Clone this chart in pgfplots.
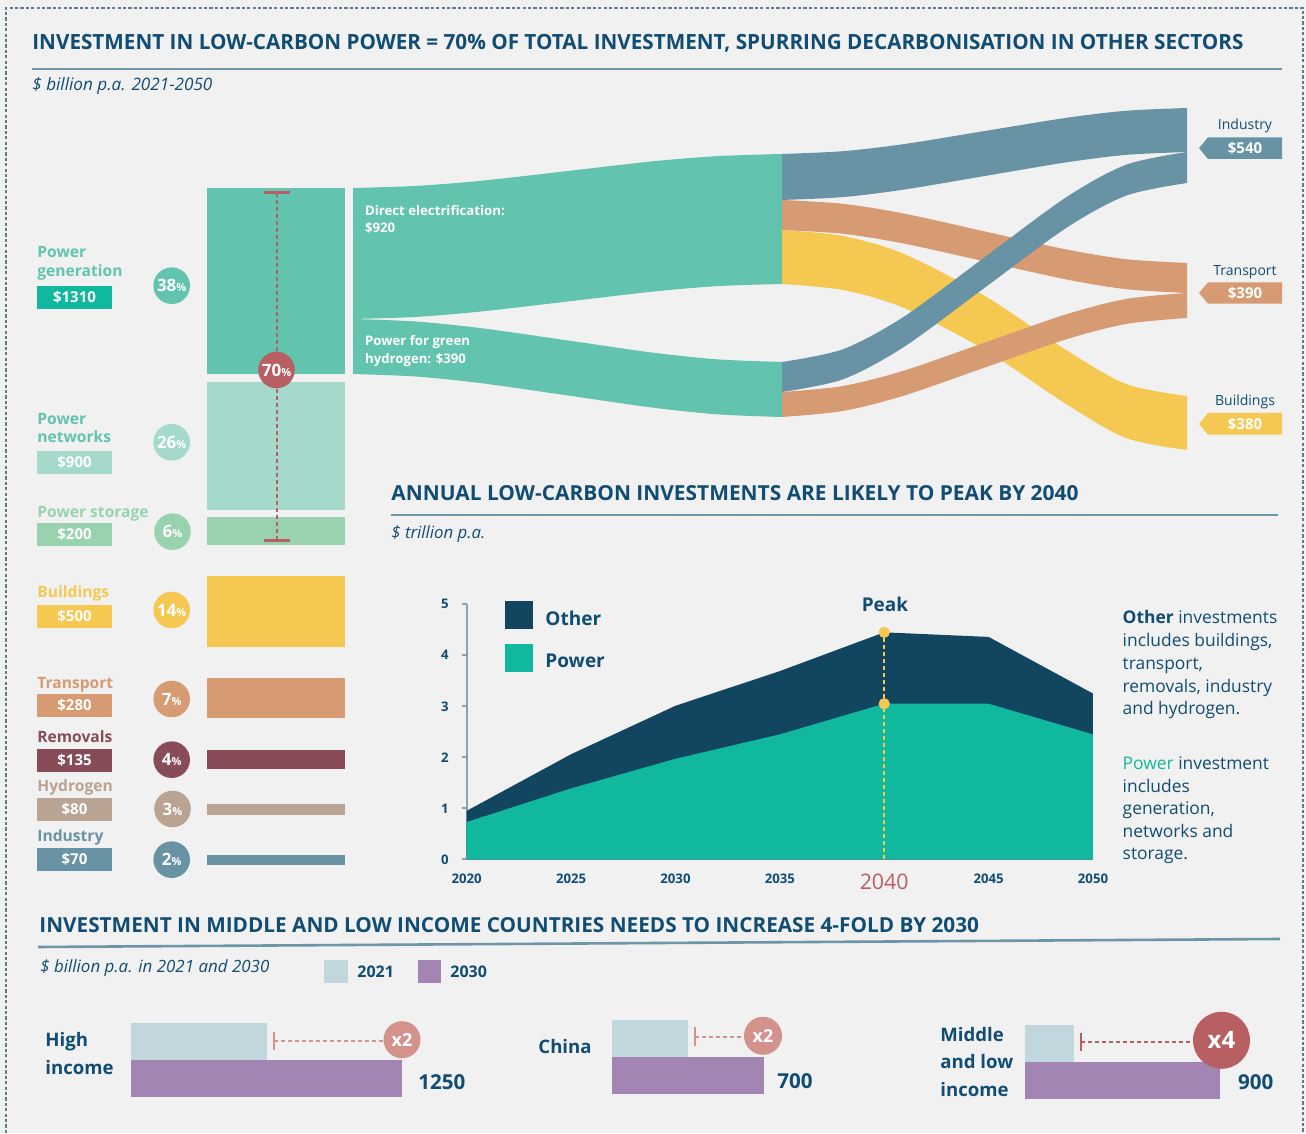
\documentclass[border=0pt]{standalone}
\usepackage{fontspec}
\setmainfont{Open Sans}
\usepackage{graphicx}
\usepackage{pgfplots}
\pgfplotsset{compat=1.18}
\usepgfplotslibrary{fillbetween}

\definecolor{bg}{HTML}{F1F1F1}
\definecolor{cNavy}{HTML}{114D73}
\definecolor{cRule}{HTML}{6C95A8}
\definecolor{cPG}{HTML}{62C4AF}
\definecolor{cPGbox}{HTML}{10B99D}
\definecolor{cPN}{HTML}{A4D9CB}
\definecolor{cPS}{HTML}{98D2AF}
\definecolor{cBld}{HTML}{F5C852}
\definecolor{cTrn}{HTML}{D69B72}
\definecolor{cRem}{HTML}{884C58}
\definecolor{cHyd}{HTML}{B9A392}
\definecolor{cInd}{HTML}{6893A5}
\definecolor{cRed}{HTML}{B85F63}
\definecolor{cOther}{HTML}{12455F}
\definecolor{cPower}{HTML}{10B99D}
\definecolor{cTwoOne}{HTML}{C1D6DD}
\definecolor{cThreeO}{HTML}{A285B3}
\definecolor{cPink}{HTML}{D4928D}
\definecolor{cBorder}{HTML}{5C7C91}
\definecolor{cAxis}{HTML}{86A3B3}

\newcommand{\fs}[1]{\fontsize{#1}{#1}\selectfont}
\tikzset{lbl/.style={anchor=base west, inner sep=0pt},
         cbl/.style={anchor=base, inner sep=0pt}}

\begin{document}
\begin{tikzpicture}
\fill[bg] (0pt,0pt) rectangle (653pt,566.5pt);

% ---------------- left column: $ billion p.a. ----------------
\begin{axis}[at={(103.5pt,472.5pt)}, anchor=north west, scale only axis,
  width=69pt, height=338.39pt, xmin=-0.5, xmax=0.5, ymin=0, ymax=4766,
  y dir=reverse, enlargelimits=false, hide axis, clip=false,
  ybar stacked, bar width=69pt]
\addplot[fill=cPG, draw=none] coordinates {(0,1310)};
\addplot[fill=none, draw=none] coordinates {(0,56)};
\addplot[fill=cPN, draw=none] coordinates {(0,900)};
\addplot[fill=none, draw=none] coordinates {(0,51)};
\addplot[fill=cPS, draw=none] coordinates {(0,200)};
\addplot[fill=none, draw=none] coordinates {(0,215)};
\addplot[fill=cBld, draw=none] coordinates {(0,500)};
\addplot[fill=none, draw=none] coordinates {(0,218)};
\addplot[fill=cTrn, draw=none] coordinates {(0,280)};
\addplot[fill=none, draw=none] coordinates {(0,227)};
\addplot[fill=cRem, draw=none] coordinates {(0,135)};
\addplot[fill=none, draw=none] coordinates {(0,245)};
\addplot[fill=cHyd, draw=none] coordinates {(0,80)};
\addplot[fill=none, draw=none] coordinates {(0,279)};
\addplot[fill=cInd, draw=none] coordinates {(0,70)};
\end{axis}

% ---------------- area chart: $ trillion p.a. ----------------
\begin{axis}[at={(233.35pt,136.85pt)}, anchor=south west, scale only axis,
  x=10.438pt, y=25.5pt, xmin=2020, xmax=2050, ymin=0, ymax=5,
  enlargelimits=false, clip=false,
  axis x line*=bottom, axis y line*=left,
  axis line style={-, draw=cAxis, line width=0.8pt},
  xtick={2020,2025,2030,2035,2040,2045,2050},
  xticklabels={2020,2025,2030,2035,{\mdseries\fs{10.7}\textcolor{cRed}{2040}},2045,2050},
  xtick style={draw=none},
  ytick={0,1,2,3,4,5},
  ytick style={draw=cAxis, line width=0.8pt},
  tick align=outside, major tick length=2.5pt,
  /pgf/number format/assume math mode=true,
  ticklabel style={font=\bfseries\fs{6.6}, text=cNavy},
  xticklabel style={yshift=-1.5pt},
  yticklabel style={xshift=-3pt},
  legend style={at={(0.0612,1.013)}, anchor=north west, draw=none, fill=none,
     inner sep=0pt, row sep=7.5pt, column sep=6pt,
     font=\bfseries\fs{9.5}, text=cNavy, nodes={inner sep=0pt, anchor=west}},
  legend cell align=left,
  legend image code/.code={\fill[#1] (0pt,-5pt) rectangle (14pt,9pt);}]
\addplot[fill=cOther, draw=none] coordinates {(2020,0.95) (2025,2.06) (2030,3.01) (2035,3.69) (2040,4.45) (2045,4.36) (2050,3.25)} \closedcycle;
\addplot[fill=cPower, draw=none] coordinates {(2020,0.73) (2025,1.39) (2030,1.97) (2035,2.45) (2040,3.05) (2045,3.05) (2050,2.45)} \closedcycle;
\legend{Other,Power}
\addplot[cBld, line width=1.1pt, dash pattern=on 2pt off 1.5pt] coordinates {(2040,0) (2040,4.45)};
\addplot[only marks, mark=*, mark size=2.6pt, color=cBld] coordinates {(2040,4.45) (2040,3.05)};
\end{axis}

% ---------------- bottom bars: $ billion p.a. ----------------
\begin{axis}[at={(65.5pt,18pt)}, anchor=south west, scale only axis,
  x=0.1084pt, y=18.5pt, xmin=0, xmax=1300, ymin=-0.5, ymax=1.5,
  enlargelimits=false, hide axis, clip=false, xbar, bar width=18.5pt]
\addplot[fill=cThreeO, draw=none, bar shift=0pt] coordinates {(1250,0)};
\addplot[fill=cTwoOne, draw=none, bar shift=0pt] coordinates {(625,1)};
\end{axis}
\begin{axis}[at={(306pt,19.5pt)}, anchor=south west, scale only axis,
  x=0.1084pt, y=18.5pt, xmin=0, xmax=1300, ymin=-0.5, ymax=1.5,
  enlargelimits=false, hide axis, clip=false, xbar, bar width=18.5pt]
\addplot[fill=cThreeO, draw=none, bar shift=0pt] coordinates {(700,0)};
\addplot[fill=cTwoOne, draw=none, bar shift=0pt] coordinates {(350,1)};
\end{axis}
\begin{axis}[at={(512.5pt,17pt)}, anchor=south west, scale only axis,
  x=0.1084pt, y=18.5pt, xmin=0, xmax=1300, ymin=-0.5, ymax=1.5,
  enlargelimits=false, hide axis, clip=false, xbar, bar width=18.5pt]
\addplot[fill=cThreeO, draw=none, bar shift=0pt] coordinates {(900,0)};
\addplot[fill=cTwoOne, draw=none, bar shift=0pt] coordinates {(225,1)};
\end{axis}

% ---------------- overlay in pixel coordinates ----------------
\begin{axis}[at={(0pt,0pt)}, anchor=south west, scale only axis,
  x=0.5pt, y=0.5pt, xmin=0, xmax=1306, ymin=0, ymax=1133, y dir=reverse,
  enlargelimits=false, hide axis, clip=false,
  fill between/on layer=main]

% border
\draw[cBorder, line width=1pt, dash pattern=on 1.6pt off 1.1pt] (6,1133) -- (6,8) -- (1303,8) -- (1303,1133);

% titles
\node[lbl, text=cNavy] at (32,49.3) {\resizebox{605.5pt}{7.6pt}{\bfseries INVESTMENT IN LOW-CARBON POWER = 70\% OF TOTAL INVESTMENT, SPURRING DECARBONISATION IN OTHER SECTORS}};
\draw[cRule, line width=1.1pt] (32,69) -- (1282,69);
\node[lbl, text=cNavy] at (32,90.7) {\resizebox{90pt}{!}{\itshape \$ billion p.a. 2021-2050}};

\node[lbl, text=cNavy] at (391,500.7) {\resizebox{343.5pt}{7.5pt}{\bfseries ANNUAL LOW-CARBON INVESTMENTS ARE LIKELY TO PEAK BY 2040}};
\draw[cRule, line width=1.1pt] (391,515) -- (1278,515);
\node[lbl, text=cNavy] at (391,538.3) {\resizebox{47pt}{!}{\itshape \$ trillion p.a.}};

\node[lbl, text=cNavy] at (39,932.3) {\resizebox{469.8pt}{7.5pt}{\bfseries INVESTMENT IN MIDDLE AND LOW INCOME COUNTRIES NEEDS TO INCREASE 4-FOLD BY 2030}};
\draw[cRule, line width=1.3pt] (38,947) -- (1280,939);
\node[lbl, text=cNavy] at (40,972.7) {\resizebox{114.5pt}{!}{\itshape \$ billion p.a. in 2021 and 2030}};

% sankey: left part
\addplot[draw=none, smooth, name path=deT] coordinates {(353,188) (417,185.9) (482,180.7) (568,171) (653,161.3) (718,156.1) (782,154)};
\addplot[draw=none, smooth, name path=deB] coordinates {(353,319) (417,316.9) (482,311.4) (568,301.5) (653,291.6) (718,286.1) (782,284)};
\addplot[fill=cPG, draw=none] fill between[of=deT and deB];
\addplot[draw=none, smooth, name path=ghT] coordinates {(353,319) (417,321.6) (482,328.3) (568,340.5) (653,352.7) (718,359.4) (782,362)};
\addplot[draw=none, smooth, name path=ghB] coordinates {(353,374) (417,376.6) (482,383.3) (568,395.5) (653,407.7) (718,414.4) (782,417)};
\addplot[fill=cPG, draw=none] fill between[of=ghT and ghB];
% sankey: right part
\addplot[draw=none, smooth, name path=dbT] coordinates {(782,230) (843,236) (904,254) (985,296) (1066,350) (1126,384) (1187,396)};
\addplot[draw=none, smooth, name path=dbB] coordinates {(782,284) (843,290) (904,308) (985,350) (1066,404) (1126,438) (1187,450)};
\addplot[fill=cBld, draw=none] fill between[of=dbT and dbB];
\addplot[draw=none, smooth, name path=dtT] coordinates {(782,200) (843,203.8) (904,213.6) (985,231.5) (1066,249.4) (1126,259.2) (1187,263)};
\addplot[draw=none, smooth, name path=dtB] coordinates {(782,230) (843,233.8) (904,243.6) (985,261.5) (1066,279.4) (1126,289.2) (1187,293)};
\addplot[fill=cTrn, draw=none] fill between[of=dtT and dtB];
\addplot[draw=none, smooth, name path=diT] coordinates {(782,154) (843,151.2) (904,144.1) (985,131) (1066,117.9) (1126,110.8) (1187,108)};
\addplot[draw=none, smooth, name path=diB] coordinates {(782,200) (843,197.1) (904,189.6) (985,176) (1066,162.4) (1126,154.9) (1187,152)};
\addplot[fill=cInd, draw=none] fill between[of=diT and diB];
\addplot[draw=none, smooth, name path=gtT] coordinates {(782,392) (843,386) (904,370.6) (985,342.5) (1066,314.4) (1126,299) (1187,293)};
\addplot[draw=none, smooth, name path=gtB] coordinates {(782,417) (843,411) (904,395.6) (985,367.5) (1066,339.4) (1126,324) (1187,318)};
\addplot[fill=cTrn, draw=none] fill between[of=gtT and gtB];
\addplot[draw=none, smooth, name path=giT] coordinates {(782,362) (843,349.2) (904,316.6) (985,257) (1066,197.4) (1126,164.8) (1187,152)};
\addplot[draw=none, smooth, name path=giB] coordinates {(782,392) (843,379.3) (904,346.9) (985,287.5) (1066,228.1) (1126,195.7) (1187,183)};
\addplot[fill=cInd, draw=none] fill between[of=giT and giB];

% sankey labels
\node[lbl, text=white, font=\bfseries\fs{6.6}] at (364.7,216) {Direct electrification:};
\node[lbl, text=white, font=\bfseries\fs{6.6}] at (364.7,232.7) {\$920};
\node[lbl, text=white, font=\bfseries\fs{6.6}] at (364.7,346) {Power for green};
\node[lbl, text=white, font=\bfseries\fs{6.6}] at (364.7,363.3) {hydrogen: \$390};

% right node labels and tags
\node[cbl, text=cNavy, font=\fs{7}] at (1245,130) {Industry};
\fill[cInd] (1199,148.2) -- (1208,137.3) -- (1282,137.3) -- (1282,159) -- (1208,159) -- cycle;
\node[text=white, font=\bfseries\fs{7.5}, inner sep=0pt] at (1245,148.2) {\$540};
\node[cbl, text=cNavy, font=\fs{7}] at (1245,276) {Transport};
\fill[cTrn] (1199,293) -- (1208,282.3) -- (1282,282.3) -- (1282,303.7) -- (1208,303.7) -- cycle;
\node[text=white, font=\bfseries\fs{7.5}, inner sep=0pt] at (1245,293) {\$390};
\node[cbl, text=cNavy, font=\fs{7}] at (1245,406) {Buildings};
\fill[cBld] (1199,424) -- (1208,413) -- (1282,413) -- (1282,434.7) -- (1208,434.7) -- cycle;
\node[text=white, font=\bfseries\fs{7.5}, inner sep=0pt] at (1245,424) {\$380};

% left labels
\node[lbl, text=cPG, font=\bfseries\fs{7.8}] at (37,257.3) {Power};
\node[lbl, text=cPG, font=\bfseries\fs{7.8}] at (37,276.7) {generation};
\fill[cPGbox] (37,286) rectangle (112,308.7);
\node[text=white, font=\bfseries\fs{7.5}, inner sep=0pt] at (74.5,297.4) {\$1310};
\node[lbl, text=cPG, font=\bfseries\fs{7.8}] at (37,424.3) {Power};
\node[lbl, text=cPG, font=\bfseries\fs{7.8}] at (37,442.3) {networks};
\fill[cPN] (37,451) rectangle (112,473.7);
\node[text=white, font=\bfseries\fs{7.5}, inner sep=0pt] at (74.5,462.4) {\$900};
\node[lbl, text=cPS, font=\bfseries\fs{7.8}] at (37,517.3) {Power storage};
\fill[cPS] (37,523.3) rectangle (112,545.7);
\node[text=white, font=\bfseries\fs{7.5}, inner sep=0pt] at (74.5,534.5) {\$200};
\node[lbl, text=cBld, font=\bfseries\fs{7.8}] at (37,597.3) {Buildings};
\fill[cBld] (37,605) rectangle (112,627.7);
\node[text=white, font=\bfseries\fs{7.5}, inner sep=0pt] at (74.5,616.4) {\$500};
\node[lbl, text=cTrn, font=\bfseries\fs{7.8}] at (37,688.3) {Transport};
\fill[cTrn] (37,694) rectangle (112,716.7);
\node[text=white, font=\bfseries\fs{7.5}, inner sep=0pt] at (74.5,705.4) {\$280};
\node[lbl, text=cRem, font=\bfseries\fs{7.8}] at (37,742.3) {Removals};
\fill[cRem] (37,749) rectangle (112,771.7);
\node[text=white, font=\bfseries\fs{7.5}, inner sep=0pt] at (74.5,760.4) {\$135};
\node[lbl, text=cHyd, font=\bfseries\fs{7.8}] at (37,791.7) {Hydrogen};
\fill[cHyd] (37,798) rectangle (112,820.7);
\node[text=white, font=\bfseries\fs{7.5}, inner sep=0pt] at (74.5,809.4) {\$80};
\node[lbl, text=cInd, font=\bfseries\fs{7.8}] at (37,841.7) {Industry};
\fill[cInd] (37,848) rectangle (112,870.7);
\node[text=white, font=\bfseries\fs{7.5}, inner sep=0pt] at (74.5,859.4) {\$70};

% percentage circles
\tikzset{pc/.style={circle, minimum size=18.3pt, inner sep=0pt, text=white, font=\bfseries\fs{8.5}}}
\node[pc, fill=cPG] at (171.7,285.7) {38{\fs{5.5}\%}};
\node[pc, fill=cPN] at (171.7,442.3) {26{\fs{5.5}\%}};
\node[pc, fill=cPS] at (172.5,531.7) {6{\fs{5.5}\%}};
\node[pc, fill=cBld] at (171.7,610) {14{\fs{5.5}\%}};
\node[pc, fill=cTrn] at (171.7,699) {7{\fs{5.5}\%}};
\node[pc, fill=cRem] at (171.7,759.7) {4{\fs{5.5}\%}};
\node[pc, fill=cHyd] at (172.5,809) {3{\fs{5.5}\%}};
\node[pc, fill=cInd] at (171.7,859.7) {2{\fs{5.5}\%}};

% 70% whisker
\draw[cRed, line width=1pt, dash pattern=on 2pt off 1.5pt] (277,192.7) -- (277,540.7);
\draw[cRed, line width=1.3pt] (264,192.7) -- (290,192.7);
\draw[cRed, line width=1.3pt] (264,540.7) -- (290,540.7);
\node[pc, fill=cRed] at (276.5,370) {70{\fs{5.5}\%}};

% area chart annotations
\node[cbl, text=cNavy, font=\bfseries\fs{9.5}] at (885,611.7) {Peak};
\node[lbl, text=cNavy, font=\fs{8.7}] at (1122.3,624) {\textbf{Other} investments};
\node[lbl, text=cNavy, font=\fs{8.7}] at (1122.3,647) {includes buildings,};
\node[lbl, text=cNavy, font=\fs{8.7}] at (1122.3,670) {transport,};
\node[lbl, text=cNavy, font=\fs{8.7}] at (1122.3,693) {removals, industry};
\node[lbl, text=cNavy, font=\fs{8.7}] at (1122.3,715) {and hydrogen.};
\node[lbl, text=cNavy, font=\fs{8.7}] at (1122.3,770) {\textcolor{cPower}{Power} investment};
\node[lbl, text=cNavy, font=\fs{8.7}] at (1122.3,793) {includes};
\node[lbl, text=cNavy, font=\fs{8.7}] at (1122.3,815) {generation,};
\node[lbl, text=cNavy, font=\fs{8.7}] at (1122.3,838) {networks and};
\node[lbl, text=cNavy, font=\fs{8.7}] at (1122.3,860) {storage.};

% bottom legend
\fill[cTwoOne] (324,960) rectangle (347.6,983.3);
\node[lbl, text=cNavy, font=\bfseries\fs{8}] at (357,978) {2021};
\fill[cThreeO] (418,960) rectangle (441,983.3);
\node[lbl, text=cNavy, font=\bfseries\fs{8}] at (450,978) {2030};

% bottom labels and values
\node[lbl, text=cNavy, font=\bfseries\fs{9.3}] at (45,1046.7) {High};
\node[lbl, text=cNavy, font=\bfseries\fs{9.3}] at (45,1075) {income};
\node[lbl, text=cNavy, font=\bfseries\fs{9.3}] at (538,1054) {China};
\node[lbl, text=cNavy, font=\bfseries\fs{9.3}] at (940,1041.7) {Middle};
\node[lbl, text=cNavy, font=\bfseries\fs{9.3}] at (940,1068.3) {and low};
\node[lbl, text=cNavy, font=\bfseries\fs{9.3}] at (940,1096.7) {income};
\node[lbl, text=cNavy, font=\bfseries\fs{10.3}] at (418,1090) {1250};
\node[lbl, text=cNavy, font=\bfseries\fs{10.3}] at (777,1088.3) {700};
\node[lbl, text=cNavy, font=\bfseries\fs{10.3}] at (1237.7,1090) {900};

% multipliers
\draw[cPink, line width=1pt] (274.4,1032.3) -- (274.4,1050);
\draw[cPink, line width=1pt, dash pattern=on 2pt off 1.5pt] (274.4,1041.5) -- (384,1041.5);
\node[circle, fill=cPink, minimum size=18.5pt, inner sep=0pt, text=white, font=\bfseries\fs{9}] at (402,1039.7) {x2};
\draw[cPink, line width=1pt] (695.2,1026.7) -- (695.2,1046);
\draw[cPink, line width=1pt, dash pattern=on 2pt off 1.5pt] (695.2,1036.7) -- (745,1036.7);
\node[circle, fill=cPink, minimum size=19pt, inner sep=0pt, text=white, font=\bfseries\fs{9}] at (763,1035.8) {x2};
\draw[cRed, line width=1pt] (1081,1032.7) -- (1081,1050.7);
\draw[cRed, line width=1pt, dash pattern=on 2pt off 1.5pt] (1081,1042.3) -- (1194,1042.3);
\node[circle, fill=cRed, minimum size=28.5pt, inner sep=0pt, text=white, font=\bfseries\fs{12}] at (1221.5,1040.3) {x4};
\end{axis}
\end{tikzpicture}
\end{document}
